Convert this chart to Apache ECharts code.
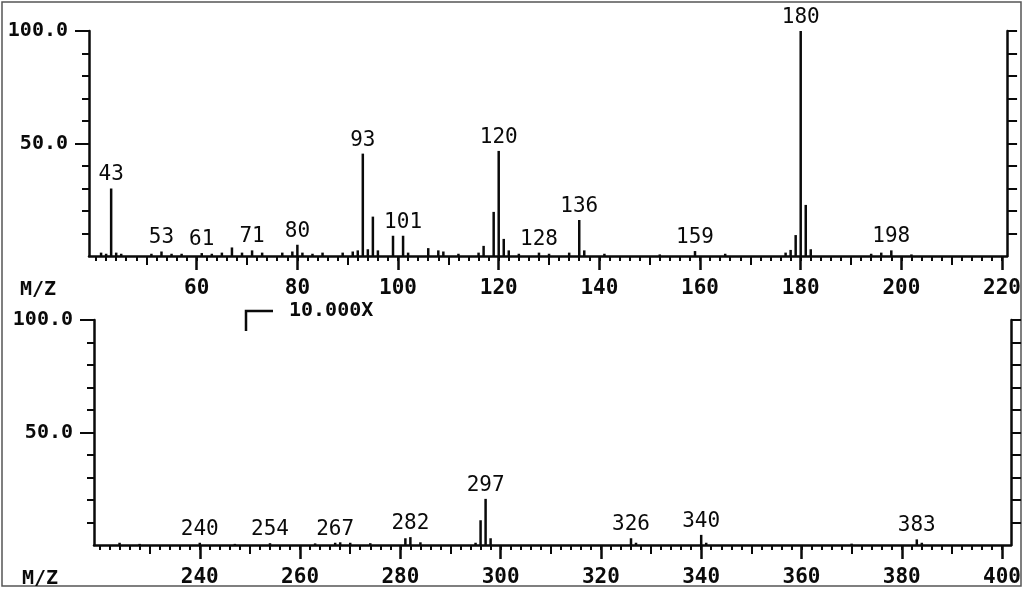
<!DOCTYPE html>
<html><head><meta charset="utf-8">
<script src="https://cdn.jsdelivr.net/npm/echarts@6/dist/echarts.min.js"></script>
<style>html,body{margin:0;padding:0;background:#fff}#c{width:1024px;height:589px}</style>
</head><body><div id="c"></div>
<script>
// ---- Data ----
// Upper panel: m/z 38.6 .. 221
const topMz  = [41, 42, 43, 44, 45, 51, 53, 55, 57, 61, 63, 65, 67, 69, 71, 73, 77, 79, 80, 81, 83, 85, 89, 91, 92, 93, 94, 95, 96, 99, 101, 102, 106, 108, 109, 112, 116, 117, 119, 120, 121, 122, 124, 128, 130, 134, 136, 137, 141, 152, 159, 165, 177, 178, 179, 180, 181, 182, 194, 196, 198, 202];
const topInt = [1.5, 1, 30, 1.5, 1, 1, 2, 1, 1, 1.3, 1, 1.5, 3.8, 1.5, 2.5, 1.5, 1.5, 2, 5, 1.5, 1, 1.5, 1.5, 2, 2.5, 45.5, 3, 17.5, 2.5, 9, 9, 1.5, 3.5, 2.5, 2, 1, 1.5, 4.5, 19.6, 46.7, 7.6, 2.5, 1, 1.5, 1, 1.5, 16, 2.5, 1, 0.7, 2.2, 1, 1.5, 2.7, 9.3, 100, 22.7, 3, 1, 1.5, 2.5, 0.7];
const topLabelled = [43, 53, 61, 71, 80, 93, 101, 120, 128, 136, 159, 180, 198];

// Lower panel (x10 magnified): m/z 218.9 .. 401.8
const botMz  = [224, 228, 240, 247, 254, 263, 267, 268, 270, 274, 281, 282, 284, 295, 296, 297, 298, 326, 327, 340, 341, 370, 383, 384];
const botInt = [1, 0.5, 1, 0.5, 0.8, 0.7, 1, 1.2, 1, 0.8, 3, 3.5, 1.2, 1, 11, 20.5, 3, 3, 1, 4.5, 1, 0.6, 2.5, 1];
const botLabelled = [240, 254, 267, 282, 297, 326, 340, 383];

// Axis ticks / labels
const topXLabels = [60, 80, 100, 120, 140, 160, 180, 200, 220];
const topXMajor  = [60, 80, 100, 120, 140, 160, 180, 200, 220];
const topXMid    = [50, 70, 90, 110, 130, 150, 170, 190, 210];
const botXLabels = [240, 260, 280, 300, 320, 340, 360, 380, 400];
const botXMajor  = [240, 260, 280, 300, 320, 340, 360, 380, 400];
const botXMid    = [230, 250, 270, 290, 310, 330, 350, 370, 390];
const minorStep = 2;
const yLabels = [50, 100];
const yMinor = [10, 20, 30, 40, 60, 70, 80, 90];
const yRight = [10, 20, 30, 40, 50, 60, 70, 80, 90, 100];
const zoomText = '10.000X';
const axisName = 'M/Z';

function range(a, b, s) { const r = []; for (let v = a; v <= b; v += s) r.push(v); return r; }
const topXMinor = range(40, 220, minorStep);
const botXMinor = range(220, 400, minorStep);

const MONO = '"DejaVu Sans Mono", "Liberation Mono", monospace';
const INK = '#0a0a0a';

function xAxesFor(grid, min, max, minor, mid, major, labels) {
  const base = { type: 'value', gridIndex: grid, min: min, max: max, position: 'bottom', splitLine: { show: false } };
  return [
    Object.assign({}, base, {
      axisLine: { show: true, lineStyle: { color: INK, width: 2.5 } },
      axisTick: { show: true, customValues: minor, length: 5, lineStyle: { color: INK, width: 2 } },
      axisLabel: { show: true, customValues: labels, margin: 22, fontFamily: MONO, fontSize: 21, fontWeight: 'bold', color: INK,
                   formatter: v => String(Math.round(v)) }
    }),
    Object.assign({}, base, {
      axisLine: { show: false },
      axisTick: { show: true, customValues: mid, length: 9, lineStyle: { color: INK, width: 2 } },
      axisLabel: { show: false }
    }),
    Object.assign({}, base, {
      axisLine: { show: false },
      axisTick: { show: true, customValues: major, length: 14, lineStyle: { color: INK, width: 2.5 } },
      axisLabel: { show: false }
    })
  ];
}
function yAxesFor(grid) {
  const base = { type: 'value', gridIndex: grid, min: 0, max: 100, splitLine: { show: false } };
  return [
    Object.assign({}, base, {
      position: 'left',
      axisLine: { show: true, lineStyle: { color: INK, width: 2.5 } },
      axisTick: { show: true, customValues: yLabels, length: 14, lineStyle: { color: INK, width: 2 } },
      axisLabel: { show: true, customValues: yLabels, margin: 21, fontFamily: MONO, fontSize: 20, fontWeight: 'bold', color: INK,
                   formatter: v => v.toFixed(1) }
    }),
    Object.assign({}, base, {
      position: 'left',
      axisLine: { show: false },
      axisTick: { show: true, customValues: yMinor, length: 7, lineStyle: { color: INK, width: 2 } },
      axisLabel: { show: false }
    }),
    Object.assign({}, base, {
      position: 'right',
      axisLine: { show: true, lineStyle: { color: INK, width: 2.5 } },
      axisTick: { show: true, customValues: yRight, length: 10, lineStyle: { color: INK, width: 2 } },
      axisLabel: { show: false }
    })
  ];
}
function peaks(mz, vals, labelled) {
  return mz.map((m, i) => ({ value: [m, vals[i]], label: { show: labelled.indexOf(m) >= 0 } }));
}
const peakLabel = { show: false, position: 'top', distance: 3, fontFamily: MONO, fontSize: 21, color: INK,
                    formatter: p => String(p.value[0]) };

const chart = echarts.init(document.getElementById('c'), null, { renderer: 'canvas' });
chart.setOption({
  animation: false,
  backgroundColor: '#fff',
  grid: [
    { left: 89, right: 15, top: 31, height: 225 },
    { left: 94, right: 10, top: 320, height: 225 }
  ],
  xAxis: xAxesFor(0, 38.6, 221, topXMinor, topXMid, topXMajor, topXLabels)
    .concat(xAxesFor(1, 218.9, 401.8, botXMinor, botXMid, botXMajor, botXLabels)),
  yAxis: yAxesFor(0).concat(yAxesFor(1)),
  series: [
    { type: 'bar', xAxisIndex: 0, yAxisIndex: 0, barWidth: 2.5, itemStyle: { color: INK },
      label: peakLabel, data: peaks(topMz, topInt, topLabelled) },
    { type: 'bar', xAxisIndex: 3, yAxisIndex: 3, barWidth: 2.5, itemStyle: { color: INK },
      label: peakLabel, data: peaks(botMz, botInt, botLabelled) }
  ],
  graphic: [
    { type: 'rect', shape: { x: 2, y: 2, width: 1019, height: 584 }, style: { fill: 'none', stroke: '#555', lineWidth: 1.5 } },
    { type: 'text', left: 20, top: 280, style: { text: axisName, font: 'bold 20px ' + MONO, fill: INK } },
    { type: 'text', left: 22, top: 569, style: { text: axisName, font: 'bold 20px ' + MONO, fill: INK } },
    { type: 'polyline', shape: { points: [[246, 331], [246, 311], [273, 311]] }, style: { stroke: INK, lineWidth: 2.5, fill: 'none' } },
    { type: 'text', left: 289, top: 301, style: { text: zoomText, font: 'bold 20px ' + MONO, fill: INK } }
  ]
});
</script>
</body></html>
